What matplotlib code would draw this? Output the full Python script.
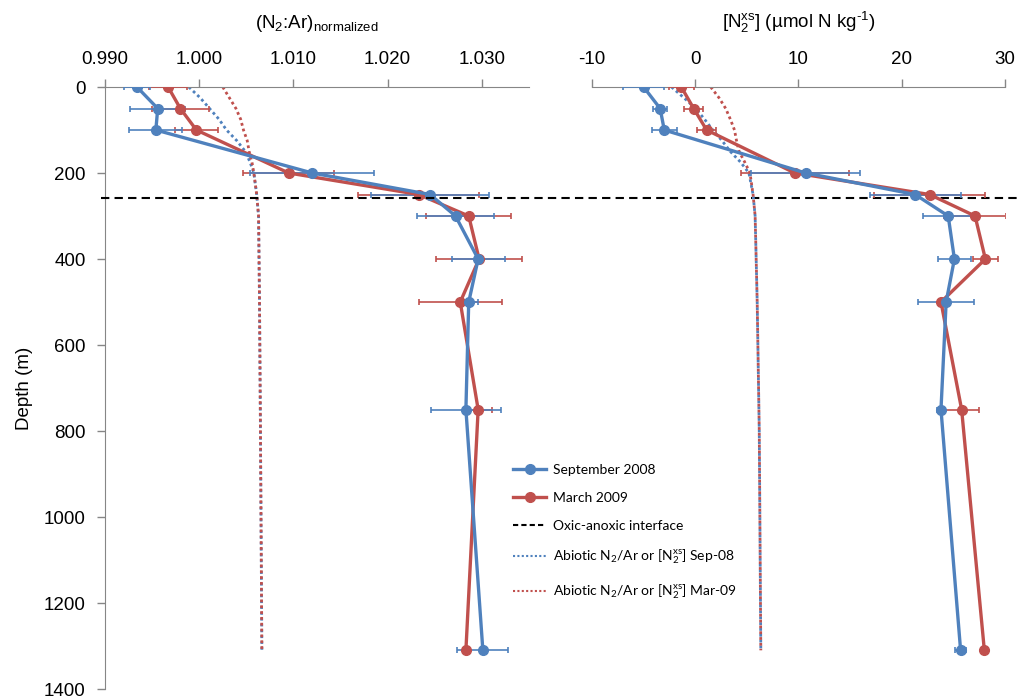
import matplotlib
matplotlib.use("Agg")
import matplotlib.pyplot as plt
from matplotlib.lines import Line2D
from matplotlib.ticker import MultipleLocator, FormatStrFormatter

plt.rcParams['font.family'] = ['Liberation Sans', 'DejaVu Sans']
plt.rcParams['mathtext.default'] = 'regular'

# sample depths (m)
depth = [0, 50, 100, 200, 250, 300, 400, 500, 750, 1310]

# (N2:Ar) normalized
n2ar_sep = [0.9934, 0.9956, 0.9954, 1.0120, 1.0245, 1.0272, 1.0296, 1.0286, 1.0283, 1.0301]
n2ar_sep_err = [0.0014, 0.0029, 0.0028, 0.0066, 0.0063, 0.0041, 0.0028, 0.0010, 0.0037, 0.0027]
n2ar_mar = [0.9967, 0.9980, 0.9997, 1.0095, 1.0233, 1.0286, 1.0297, 1.0277, 1.0296, 1.0283]
n2ar_mar_err = [0.0020, 0.0030, 0.0023, 0.0048, 0.0064, 0.0045, 0.0046, 0.0044, 0.0015, 0.0003]

# [N2xs] umol N/kg
n2xs_sep = [-5.0, -3.4, -3.0, 10.7, 21.3, 24.5, 25.1, 24.3, 23.8, 25.7]
n2xs_sep_err = [2.0, 0.7, 1.2, 5.3, 4.4, 2.4, 1.6, 2.7, 0.4, 0.5]
n2xs_mar = [-1.35, -0.15, 1.1, 9.65, 22.7, 27.1, 28.1, 23.8, 25.8, 28.0]
n2xs_mar_err = [1.2, 0.9, 0.9, 5.2, 5.4, 3.0, 1.2, 0.3, 1.7, 0.0]

# abiotic profiles
abio_depth = [0, 25, 50, 75, 100, 125, 150, 175, 200, 250, 300, 500, 800, 1310]
abio_n2ar_sep = [0.9989, 1.0001, 1.0011, 1.0021, 1.0029, 1.0040, 1.0049, 1.0054, 1.0058,
                 1.0061, 1.0063, 1.0064, 1.0065, 1.00665]
abio_n2ar_mar = [1.0025, 1.0032, 1.0039, 1.0044, 1.0047, 1.0051, 1.0053, 1.0056, 1.0058,
                 1.0061, 1.0063, 1.0064, 1.0065, 1.00665]
abio_n2xs_sep = [-2.3, -1.1, 0.05, 0.9, 1.7, 2.6, 3.4, 4.4, 5.2, 5.6, 5.8, 6.0, 6.2, 6.35]
abio_n2xs_mar = [1.5, 2.3, 2.95, 3.4, 3.8, 4.0, 4.25, 4.8, 5.3, 5.6, 5.8, 6.0, 6.2, 6.35]

interface_depth = 258

blue = '#4F81BD'
red = '#C0504D'
grey = '#868686'

fig = plt.figure(figsize=(10.17, 7.0), dpi=100)
ax1 = fig.add_axes([0.1032, 0.0157, 0.4170, 0.8600])
ax2 = fig.add_axes([0.5821, 0.0157, 0.4061, 0.8600])
ax2.patch.set_visible(False)


def style(ax, xlo, xhi, step, fmt):
    ax.set_xlim(xlo, xhi)
    ax.set_ylim(1400, 0)
    ax.xaxis.tick_top()
    ax.xaxis.set_major_locator(MultipleLocator(step))
    ax.xaxis.set_major_formatter(FormatStrFormatter(fmt))
    for s in ['bottom', 'right']:
        ax.spines[s].set_visible(False)
    ax.spines['top'].set_color(grey)
    ax.spines['left'].set_color(grey)
    ax.tick_params(colors=grey, labelcolor='black', labelsize=13.5, length=6, width=1,
                   direction='out', pad=8)


def profile(ax, x, xerr, color, label):
    ax.errorbar(x, depth, xerr=xerr, color=color, lw=2.4, marker='o', ms=7,
                elinewidth=1.2, ecolor=color, capsize=2, capthick=1.2, label=label, zorder=3)


style(ax1, 0.990, 1.035, 0.010, '%.3f')
style(ax2, -10, 30, 10, '%d')
ax1.yaxis.set_major_locator(MultipleLocator(200))
ax2.spines['left'].set_visible(False)
ax2.tick_params(axis='y', left=False, labelleft=False)

dot = (0, (1, 1.1))
ax1.plot(abio_n2ar_sep, abio_depth, color=blue, ls=dot, lw=2, zorder=2)
ax1.plot(abio_n2ar_mar, abio_depth, color=red, ls=dot, lw=2, zorder=2)
ax2.plot(abio_n2xs_sep, abio_depth, color=blue, ls=dot, lw=2, zorder=2)
ax2.plot(abio_n2xs_mar, abio_depth, color=red, ls=dot, lw=2, zorder=2)

profile(ax1, n2ar_mar, n2ar_mar_err, red, 'March 2009')
profile(ax1, n2ar_sep, n2ar_sep_err, blue, 'September 2008')
profile(ax2, n2xs_mar, n2xs_mar_err, red, 'March 2009')
profile(ax2, n2xs_sep, n2xs_sep_err, blue, 'September 2008')

# oxic-anoxic interface, runs across both panels
ax1.axhline(interface_depth, xmin=-0.01, xmax=2.16, color='black', lw=1.5,
            ls=(0, (4, 2.5)), clip_on=False, zorder=4)

ax1.set_ylabel('Depth (m)', fontsize=13.5, labelpad=8)
ax1.xaxis.set_label_position('top')
ax2.xaxis.set_label_position('top')
ax1.set_xlabel('(N$_2$:Ar)$_{normalized}$', fontsize=13.5, labelpad=16)
ax2.set_xlabel('[N$_2^{xs}$] (µmol N kg$^{\u20101}$)', fontsize=13.5, labelpad=16)

handles = [
    Line2D([], [], color=blue, lw=2.4, marker='o', ms=7),
    Line2D([], [], color=red, lw=2.4, marker='o', ms=7),
    Line2D([], [], color='black', lw=1.5, ls=(0, (2.5, 1.5))),
    Line2D([], [], color=blue, lw=1.5, ls=dot),
    Line2D([], [], color=red, lw=1.5, ls=dot),
]
labels = ['September 2008', 'March 2009', 'Oxic-anoxic interface',
          'Abiotic N$_2$/Ar or [N$_2^{xs}$] Sep-08',
          'Abiotic N$_2$/Ar or [N$_2^{xs}$] Mar-09']
fig.legend(handles, labels, loc='upper left', bbox_to_anchor=(0.492, 0.355),
           frameon=False, prop={'family': ['Lato', 'DejaVu Sans'], 'size': 10},
           handlelength=2.4, handletextpad=0.5, labelspacing=1.15)

fig.savefig('out.png', dpi=100)
plt.close(fig)
